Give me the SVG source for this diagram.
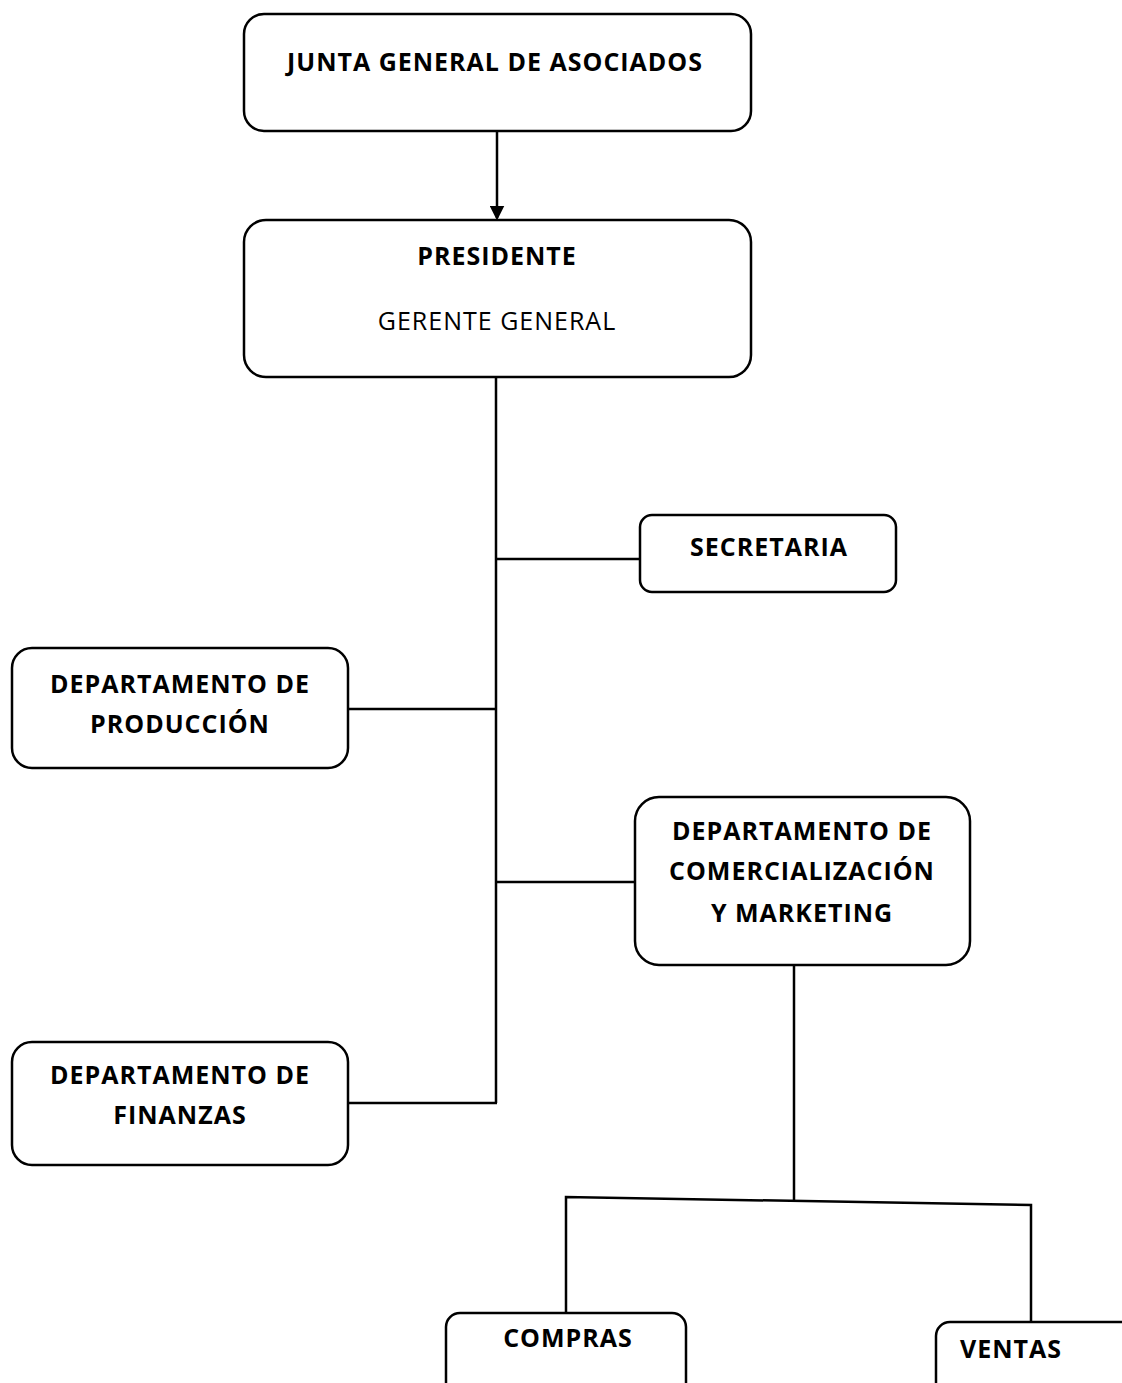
<svg xmlns="http://www.w3.org/2000/svg" width="1122" height="1383" viewBox="0 0 1122 1383">
  <style>
    .box { fill: #ffffff; stroke: #000000; stroke-width: 2.5; }
    .link { fill: none; stroke: #000000; stroke-width: 2.5; }
    .t { font-family: "Open Sans", "Liberation Sans", sans-serif; font-size: 25px; font-weight: bold; letter-spacing: 1px; fill: #000000; text-anchor: middle; }
    .n { font-weight: normal; }
    .s { text-anchor: start; }
  </style>
  <defs>
    <marker id="arrow" markerWidth="6" markerHeight="6" refX="5" refY="3" orient="auto" markerUnits="strokeWidth">
      <path d="M0,0 L6,3 L0,6 z" fill="#000000"/>
    </marker>
  </defs>
  <rect width="1122" height="1383" fill="#ffffff"/>

  <g id="connectors">
    <line class="link" x1="497" y1="131" x2="497" y2="218" stroke="#444444" marker-end="url(#arrow)"/>
    <line class="link" x1="496" y1="377" x2="496" y2="1103"/>
    <line class="link" x1="496" y1="559" x2="640" y2="559"/>
    <line class="link" x1="348" y1="709" x2="496" y2="709"/>
    <line class="link" x1="496" y1="882" x2="635" y2="882"/>
    <line class="link" x1="348" y1="1103" x2="497" y2="1103"/>
    <line class="link" x1="794" y1="965" x2="794" y2="1201"/>
    <polyline class="link" points="566,1313 566,1197 1031,1205 1031,1322"/>
  </g>

  <g id="junta">
    <rect class="box" x="244" y="14" width="507" height="117" rx="20"/>
    <text class="t" x="495" y="71">JUNTA GENERAL DE ASOCIADOS</text>
  </g>
  <g id="presidente">
    <rect class="box" x="244" y="220" width="507" height="157" rx="22"/>
    <text class="t" x="497" y="265">PRESIDENTE</text>
    <text class="t n" x="497" y="330">GERENTE GENERAL</text>
  </g>
  <g id="secretaria">
    <rect class="box" x="640" y="515" width="256" height="77" rx="12"/>
    <text class="t" x="769" y="556">SECRETARIA</text>
  </g>
  <g id="produccion">
    <rect class="box" x="12" y="648" width="336" height="120" rx="20"/>
    <text class="t" x="180" y="693">DEPARTAMENTO DE</text>
    <text class="t" x="180" y="733">PRODUCCIÓN</text>
  </g>
  <g id="comercializacion">
    <rect class="box" x="635" y="797" width="335" height="168" rx="24"/>
    <text class="t" x="802" y="840">DEPARTAMENTO DE</text>
    <text class="t" x="802" y="880">COMERCIALIZACIÓN</text>
    <text class="t" x="802" y="922">Y MARKETING</text>
  </g>
  <g id="finanzas">
    <rect class="box" x="12" y="1042" width="336" height="123" rx="20"/>
    <text class="t" x="180" y="1084">DEPARTAMENTO DE</text>
    <text class="t" x="180" y="1124">FINANZAS</text>
  </g>
  <g id="compras">
    <rect class="box" x="446" y="1313" width="240" height="100" rx="14"/>
    <text class="t" x="568" y="1347">COMPRAS</text>
  </g>
  <g id="ventas">
    <rect class="box" x="936" y="1322" width="220" height="100" rx="14"/>
    <text class="t s" x="960" y="1358">VENTAS</text>
  </g>
</svg>
